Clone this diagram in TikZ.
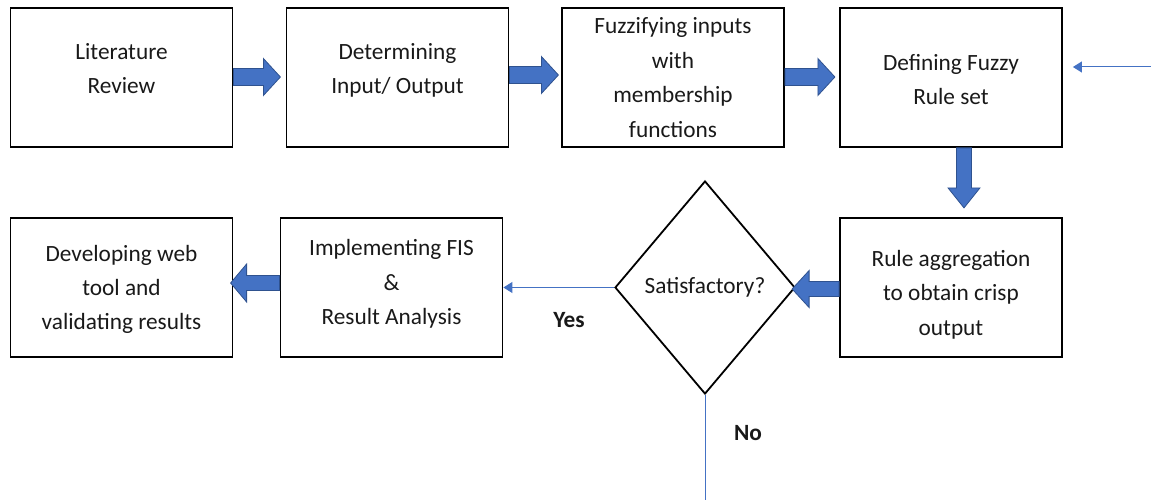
\documentclass[tikz,border=0pt]{standalone}
\usepackage{fontspec}
\setmainfont{Carlito}
\usetikzlibrary{shapes.geometric,arrows.meta,calc}
\definecolor{arrowblue}{RGB}{68,114,196}
\definecolor{arrowedge}{RGB}{47,82,143}
\tikzset{
  box/.style={draw=black, line width=1.8pt, minimum width=222pt, minimum height=139pt, inner sep=0pt, align=center, font=\fontsize{23.3}{34.5}\selectfont, text=black!90},
  decision/.style={draw=black, line width=1.8pt, diamond, minimum width=180pt, minimum height=213pt, inner sep=0pt, font=\fontsize{23.3}{34.5}\selectfont, text=black!90},
  barrow/.style={fill=arrowblue, draw=arrowedge, line width=0.8pt},
  thin/.style={draw=arrowblue, line width=1pt, -{Triangle[length=9pt,width=11pt]}},
  lbl/.style={font=\bfseries\fontsize{23.3}{26}\selectfont, text=black!90}
}
% #1 options (shift/rotate), #2 length, #3 shaft half, #4 head half, #5 head length
\newcommand{\fatarrow}[5]{\draw[barrow,#1] (0,-#3)--({#2-#5},-#3)--({#2-#5},-#4)--(#2,0)--({#2-#5},#4)--({#2-#5},#3)--(0,#3)--cycle;}
\begin{document}
\begin{tikzpicture}[x=1pt,y=-1pt]
\useasboundingbox (0,0) rectangle (1151,500);
\node[box, text depth=18pt] (b1) at (121.5,77.5) {Literature\\Review};
\node[box, text depth=18pt] (b2) at (397.5,77.5) {Determining\\Input/ Output};
\node[box] (b3) at (673,77.5) {Fuzzifying inputs\\with\\membership\\functions};
\node[box] (b4) at (951,77.5) {\rule{0pt}{20pt}Defining Fuzzy\\Rule set};
\node[box] (b7) at (951,287.5) {\rule{0pt}{30pt}Rule aggregation\\to obtain crisp\\output};
\node[decision] (d) at (705,287.5) {Satisfactory?};
\node[box] (b6) at (391.5,287.5) {Implementing FIS\\\&\\Result Analysis\rule[-11pt]{0pt}{0pt}};
\node[box] (b5) at (121.5,287.5) {\rule{0pt}{20pt}Developing web\\tool and\\validating results};
\coordinate (in) at (1151,67);
\coordinate (noend) at (705,500);
% block arrows
\fatarrow{shift={($(b1.east)+(0,-0.5)$)}}{47}{8.5}{18.5}{17}
\fatarrow{shift={($(b2.east)+(0,-2.5)$)}}{49}{8.5}{18.5}{17}
\fatarrow{shift={($(b3.east)+(0,-0.5)$)}}{50}{8.5}{18.5}{17}
\fatarrow{shift={($(b4.south)+(13,0)$)},rotate=-90}{60}{7.5}{16}{20}
\fatarrow{shift={($(b7.west)+(0,1.5)$)},rotate=180}{47}{7.5}{18.5}{17}
\fatarrow{shift={($(b6.west)+(0,-4.5)$)},rotate=180}{49}{7.5}{19}{16}
% thin connectors
\draw[thin, shorten >=10pt] (in) -- (b4.east |- in);
\draw[thin] (d.west) -- (b6.east |- d.west);
\draw[draw=arrowblue, line width=1pt] (d.south) -- (noend);
\node[lbl] (yes) at (569,320) {Yes};
\node[lbl] (no) at (748,433) {No};
\end{tikzpicture}
\end{document}
